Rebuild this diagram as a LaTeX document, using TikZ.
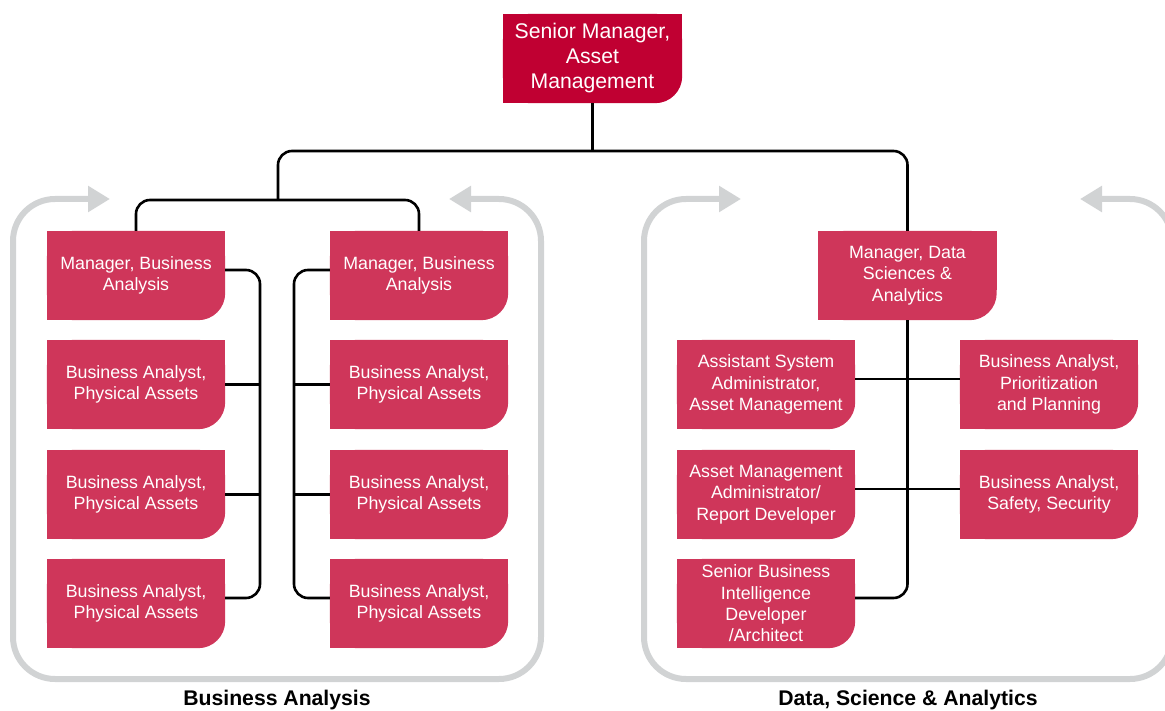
\documentclass[tikz,border=0pt]{standalone}
\usepackage{fontspec}
\setmainfont{Liberation Sans}
\usetikzlibrary{arrows.meta,backgrounds,calc}
\definecolor{topred}{RGB}{192,0,50}
\definecolor{boxred}{RGB}{207,54,90}
\definecolor{framegrey}{RGB}{209,211,212}
\tikzset{
 box/.style={minimum width=178pt, minimum height=89pt, inner sep=0pt, align=center, text=white, font=\fontsize{17.8}{21.3}\selectfont},
 topbox/.style={box, minimum width=179pt, font=\fontsize{21.2}{25}\selectfont},
 conn/.style={line width=2.6pt, black, rounded corners=14pt},
 frame/.style={framegrey, line width=6pt, rounded corners=42pt, {Triangle[length=22pt,width=25pt]}-{Triangle[length=22pt,width=25pt]}},
 grouplabel/.style={font=\fontsize{21.2}{24}\bfseries\selectfont}
}
\begin{document}
\begin{tikzpicture}[x=1pt,y=-1pt]
\useasboundingbox (0,0) rectangle (1165,711);
\clip (0,0) rectangle (1165,711);
% frames
\coordinate (f1s) at (449,199); \coordinate (f1a) at (541,199);
\coordinate (f1b) at (541,679); \coordinate (f1c) at (13,679);
\coordinate (f1d) at (13,199); \coordinate (f1e) at (110,199);
\draw[frame] (f1s) -- (f1a) -- (f1b) -- (f1c) -- (f1d) -- (f1e);
\coordinate (f2s) at (1080,199); \coordinate (f2a) at (1172,199);
\coordinate (f2b) at (1172,679); \coordinate (f2c) at (644,679);
\coordinate (f2d) at (644,199); \coordinate (f2e) at (741,199);
\draw[frame] (f2s) -- (f2a) -- (f2b) -- (f2c) -- (f2d) -- (f2e);
% nodes
\node[topbox] (top) at (592.5,58.5) {Senior Manager,\\Asset\\Management};
\node[box] (a1) at (136,275.5) {Manager, Business\\Analysis};
\node[box] (a2) at (136,384.5) {Business Analyst,\\Physical Assets};
\node[box] (a3) at (136,494.5) {Business Analyst,\\Physical Assets};
\node[box] (a4) at (136,603.5) {Business Analyst,\\Physical Assets};
\node[box] (b1) at (419,275.5) {Manager, Business\\Analysis};
\node[box] (b2) at (419,384.5) {Business Analyst,\\Physical Assets};
\node[box] (b3) at (419,494.5) {Business Analyst,\\Physical Assets};
\node[box] (b4) at (419,603.5) {Business Analyst,\\Physical Assets};
\node[box] (mds) at (907.5,275.5) {Manager, Data\\Sciences \&\\Analytics};
\node[box] (c1) at (766,384.5) {Assistant System\\Administrator,\\Asset Management};
\node[box] (c2) at (766,494.5) {Asset Management\\Administrator/\\Report Developer};
\node[box] (c3) at (766,603.5) {Senior Business\\Intelligence\\Developer\\/Architect};
\node[box] (d1) at (1049,384.5) {Business Analyst,\\Prioritization\\and Planning};
\node[box] (d2) at (1049,494.5) {Business Analyst,\\Safety, Security};
\begin{scope}[on background layer]
\foreach \n/\c in {top/topred,a1/boxred,a2/boxred,a3/boxred,a4/boxred,b1/boxred,b2/boxred,b3/boxred,b4/boxred,mds/boxred,c1/boxred,c2/boxred,c3/boxred,d1/boxred,d2/boxred}{
 \fill[\c, rounded corners=27pt] (\n.north west) rectangle (\n.south east);
 \fill[\c] (\n.north west) rectangle ([xshift=-30pt]\n.south east);
 \fill[\c] (\n.north west) rectangle ([yshift=30pt]\n.south east);
}
\end{scope}
% connectors
\coordinate (j0) at (592.5,151);
\coordinate (jl) at (278,151);
\coordinate (jr) at (907.5,151);
\coordinate (jm) at (278,200);
\draw[conn] (top.south) -- (j0);
\draw[conn] (jm) -- (jl) -- (jr) -- (mds.north);
\draw[conn] (a1.north) -- (a1.north |- jm) -- (b1.north |- jm) -- (b1.north);
\coordinate (lt) at (260,270); \coordinate (lb) at (260,598);
\draw[conn] ([yshift=5.5pt]a1.east) -- (lt) -- (lb) -- ([yshift=5.5pt]a4.east);
\draw[conn] (a2.east) -- (a2.east -| lt);
\draw[conn] (a3.east) -- (a3.east -| lt);
\coordinate (rt) at (294,270); \coordinate (rb) at (294,598);
\draw[conn] ([yshift=5.5pt]b1.west) -- (rt) -- (rb) -- ([yshift=5.5pt]b4.west);
\draw[conn] (b2.west) -- (b2.west -| rt);
\draw[conn] (b3.west) -- (b3.west -| rt);
\coordinate (mb) at (907.5,598);
\draw[conn] (mds.south) -- (mb) -- ([yshift=5.5pt]c3.east);
\draw[conn] ([yshift=5.5pt]c1.east) -- ([yshift=5.5pt]d1.west);
\draw[conn] ([yshift=5.5pt]c2.east) -- ([yshift=5.5pt]d2.west);
% labels
\node[grouplabel] (lab1) at (277,700) {Business Analysis};
\node[grouplabel] (lab2) at (908,700) {Data, Science \& Analytics};
\end{tikzpicture}
\end{document}
